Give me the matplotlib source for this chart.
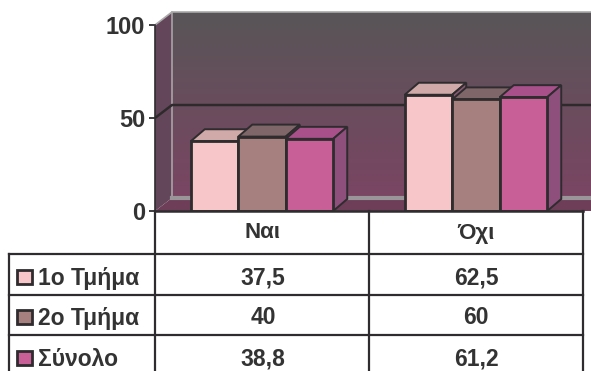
import numpy as np
import matplotlib
matplotlib.use('Agg')
import matplotlib.pyplot as plt
from matplotlib.patches import Polygon, Rectangle

categories = ['Ναι', 'Όχι']
series_names = ['1ο Τμήμα', '2ο Τμήμα', 'Σύνολο']
dept1 = [37.5, 62.5]
dept2 = [40, 60]
total = [38.8, 61.2]
table_labels = [['37,5', '62,5'], ['40', '60'], ['38,8', '61,2']]
y_ticks = [0, 50, 100]
colors = ['#f6c6c8', '#a6807e', '#c85f97']
tops = ['#d0aaa8', '#7f6668', '#a8508a']
sides = ['#8a5a72', '#7c5468', '#8e4f7c']
text_col = '#333333'
line_col = '#2e2c2e'

plt.rcParams['font.family'] = ['Liberation Sans', 'DejaVu Sans']
fig = plt.figure(figsize=(5.91, 3.71), dpi=100, facecolor='white')

# front plane of the 3d box: x 155..591 px, y 211..25 px
ax = fig.add_axes([155 / 591, 1 - 211 / 371, 436 / 591, 186 / 371])
ax.set_facecolor('none')
for s in ax.spines.values():
    s.set_visible(False)

px = 214  # pixels per category
py = 1.86  # pixels per percent
wall_dx = 17 / px
wall_dy = 13 / py
bar_dx = 14 / px
bar_dy = 12 / py
x_end = 436 / 214

# back wall with gradient
grad = np.linspace(0, 1, 100).reshape(-1, 1)
c_top = np.array([0x58, 0x55, 0x57]) / 255
c_bot = np.array([0x7a, 0x45, 0x63]) / 255
img = c_top + (c_bot - c_top) * grad[..., None]
ax.imshow(img, extent=[wall_dx, x_end, wall_dy, 100 + wall_dy], origin='upper',
          aspect='auto', zorder=1, clip_on=False)
ax.set_xlim(0, x_end)
ax.set_ylim(0, 100)

# left wall
ax.add_patch(Polygon([(0, 0), (wall_dx, wall_dy), (wall_dx, 100 + wall_dy), (0, 100)],
                     facecolor='#64465a', edgecolor='none', zorder=2, clip_on=False))
# floor
ax.add_patch(Polygon([(0, 0), (wall_dx, wall_dy), (x_end, wall_dy), (x_end, 0)],
                     facecolor='#6e3d58', edgecolor='none', zorder=2))
ax.plot([wall_dx, wall_dx], [wall_dy, 100 + wall_dy], color='#a9a4a8', lw=1.2, zorder=3, clip_on=False)
ax.plot([wall_dx, x_end], [wall_dy, wall_dy], color='#9a9598', lw=3, zorder=3)
ax.plot([0, wall_dx, x_end], [100, 100 + wall_dy, 100 + wall_dy], color='#aaaaaa', lw=1.2,
        zorder=3, clip_on=False)
# gridline at 50
ax.plot([0, wall_dx, x_end], [50, 50 + wall_dy, 50 + wall_dy], color='#2e2a2c', lw=1.8, zorder=3)

# bars, drawn back to front per group
bar_w = 47.5 / px
x_pos = [0.5, 1.5]
for i, vals in enumerate([dept1, dept2, total]):
    for j, v in enumerate(vals):
        x0 = x_pos[j] + (i - 1.5) * bar_w
        ax.add_patch(Polygon([(x0, v), (x0 + bar_dx, v + bar_dy), (x0 + bar_w + bar_dx, v + bar_dy), (x0 + bar_w, v)],
                             facecolor=tops[i], edgecolor=line_col, lw=1.4, zorder=4 + i))
        ax.add_patch(Polygon([(x0 + bar_w, 0), (x0 + bar_w + bar_dx, bar_dy), (x0 + bar_w + bar_dx, v + bar_dy), (x0 + bar_w, v)],
                             facecolor=sides[i], edgecolor=line_col, lw=1.4, zorder=4 + i))
        ax.add_patch(Rectangle((x0, 0), bar_w, v, facecolor=colors[i], edgecolor=line_col, lw=2, zorder=5 + i))

ax.set_xticks([])
ax.set_yticks(y_ticks)
ax.tick_params(axis='y', length=4.5, width=1.3, color=line_col, labelcolor=text_col, labelsize=17, pad=2.5)
for t in ax.get_yticklabels():
    t.set_fontweight('bold')
ax.plot([0, 0], [0, 100], color=line_col, lw=1.2, zorder=9, clip_on=False)

# data table, in pixel coordinates of the picture
tb = fig.add_axes([0, 0, 1, 1], facecolor='none')
tb.set_xlim(0, 591)
tb.set_ylim(371, 0)
tb.axis('off')
for yy in [254, 295, 335]:
    tb.plot([9, 583], [yy, yy], color=line_col, lw=1.6)
tb.plot([9, 9], [254, 371], color=line_col, lw=1.6)
for xx in [155, 369, 583]:
    tb.plot([xx, xx], [211, 371], color=line_col, lw=1.6)
tb.plot([155, 583], [211, 211], color=line_col, lw=1.8)

centres = [263, 476]
row_y = [277, 317, 358]
for cx, name in zip(centres, categories):
    tb.text(cx, 233, name, ha='center', va='center', fontsize=16, fontweight='bold', color=text_col)
for r, ry in enumerate(row_y):
    tb.add_patch(Rectangle((17, ry - 7), 15, 14, facecolor=colors[r], edgecolor=line_col, lw=2))
    tb.text(38, ry + 2, series_names[r], ha='left', va='center', fontsize=16.5, fontweight='bold', color=text_col)
    for cx, lab in zip(centres, table_labels[r]):
        tb.text(cx, ry + 1, lab, ha='center', va='center', fontsize=16.5, fontweight='bold', color=text_col)

fig.savefig('out.png', dpi=100)
